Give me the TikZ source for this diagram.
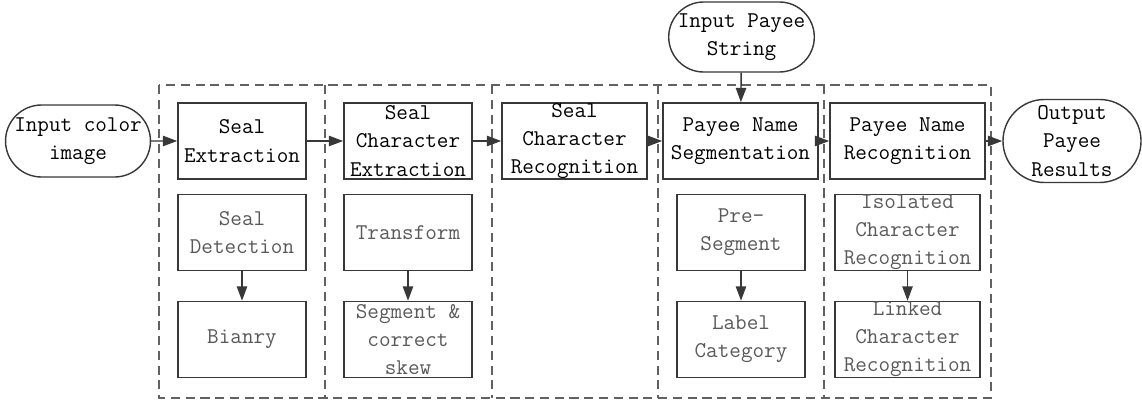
\documentclass[tikz,border=0pt]{standalone}
\usepackage{fontspec}
\usetikzlibrary{
  arrows.meta,
  shapes.misc
}
\definecolor{boxline}{gray}{0.22}
\definecolor{dashline}{gray}{0.38}
\definecolor{subtext}{gray}{0.35}

\begin{document}
\begin{tikzpicture}[x=0.025cm,y=-0.025cm,>={Triangle[length=3.6mm,width=2.6mm]},
  every node/.style={font=\ttfamily\fontsize{16}{20}\selectfont,align=center},
  stage/.style={draw=boxline,line width=1.1pt,inner sep=0pt,minimum height=1.9cm},
  sub/.style={stage,text=subtext},
  term/.style={rounded rectangle,draw=boxline,line width=1pt,inner sep=0pt}]
  \useasboundingbox (0,0) rectangle (1142,402);
  % pipeline frame
  \draw[dashline,line width=1.2pt,dash pattern=on 6.5pt off 4pt]
    (159,85) rectangle (991,398);
  \foreach \xx in {325,492,658,824}
    \draw[dashline,line width=1.2pt,dash pattern=on 6.5pt off 4pt] (\xx,85) -- (\xx,398);
  % terminals
  \node (inImg) at (78,141)    [term,minimum width=3.5cm,minimum height=1.8cm] {Input color\\image};
  \node (inStr) at (741.5,37)  [term,minimum width=3.475cm,minimum height=1.75cm] {Input Payee\\String};
  \node (outRes) at (1072,141) [term,minimum width=3.45cm,minimum height=2.075cm] {Output\\Payee\\Results};
  % main stages
  \node (sExt) at (242,141)   [stage,minimum width=3.2cm]   {Seal\\Extraction};
  \node (cExt) at (408,141)   [stage,minimum width=3.2cm]   {Seal\\Character\\Extraction};
  \node (cRec) at (574.5,141) [stage,minimum width=3.625cm] {Seal\\Character\\Recognition};
  \node (pSeg) at (740.5,141) [stage,minimum width=3.875cm] {Payee Name\\Segmentation};
  \node (pRec) at (907.5,141) [stage,minimum width=3.875cm] {Payee Name\\Recognition};
  % sub steps
  \node (sDet) at (242,232.5)   [sub,minimum width=3.2cm]   {Seal\\Detection};
  \node (sBin) at (242,339.5)   [sub,minimum width=3.2cm]   {Bianry};
  \node (cTra) at (408,232.5)   [sub,minimum width=3.2cm]   {Transform};
  \node (cSeg) at (408,339.5)   [sub,minimum width=3.2cm]   {Segment \&\\correct\\skew};
  \node (pPre) at (741,232.5)   [sub,minimum width=3.2cm]   {Pre-\\Segment};
  \node (pLab) at (741,339.5)   [sub,minimum width=3.2cm]   {Label\\Category};
  \node (pIso) at (907.5,232.5) [sub,minimum width=3.625cm] {Isolated\\Character\\Recognition};
  \node (pLnk) at (907.5,339.5) [sub,minimum width=3.625cm] {Linked\\Character\\Recognition};
  % flow
  \draw[boxline,line width=1pt,->] (inImg) -- (sExt);
  \draw[boxline,line width=1pt,->] (sExt) -- (cExt);
  \draw[boxline,line width=1pt,->] (cExt) -- (cRec);
  \draw[boxline,line width=1pt,->] (cRec) -- (pSeg);
  \draw[boxline,line width=1pt,->] (pSeg) -- (pRec);
  \draw[boxline,line width=1pt,->] (pRec) -- (outRes);
  \draw[boxline,line width=1pt,->] (inStr) -- (pSeg);
  \draw[boxline,line width=1pt,->] (sDet) -- (sBin);
  \draw[boxline,line width=1pt,->] (cTra) -- (cSeg);
  \draw[boxline,line width=1pt,->] (pPre) -- (pLab);
  \draw[boxline,line width=1pt,->] (pIso) -- (pLnk);
\end{tikzpicture}
\end{document}
